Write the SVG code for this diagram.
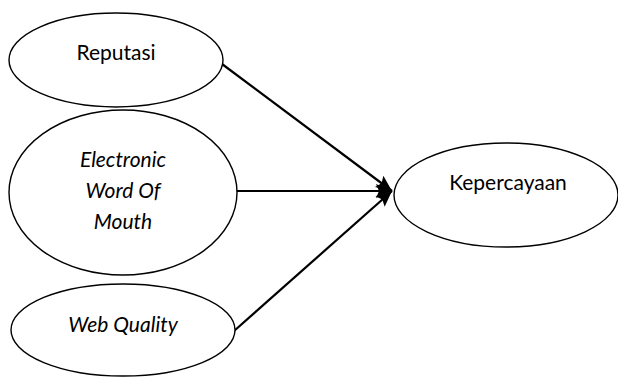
<svg xmlns="http://www.w3.org/2000/svg" width="618" height="377" viewBox="0 0 618 377">
<style>
.node ellipse{fill:#fff;stroke:#000;stroke-width:1.4}
.lbl{font-family:Lato,"Liberation Sans",sans-serif;font-size:21px;fill:#000;text-anchor:middle}
.it{font-style:italic}
.conn line{stroke:#000;stroke-width:2.2}
</style>
<defs>
<marker id="ah" markerUnits="userSpaceOnUse" markerWidth="18" markerHeight="18" viewBox="0 0 18 18" refX="17" refY="9" orient="auto">
<path d="M1,2 L17,9 L1,16 L4,9 Z" fill="#000"/>
</marker>
</defs>
<g class="conn">
<line x1="222" y1="64" x2="392" y2="191" marker-end="url(#ah)"/>
<line x1="235" y1="191" x2="392" y2="191" marker-end="url(#ah)"/>
<line x1="234" y1="331" x2="392" y2="191" marker-end="url(#ah)"/>
</g>
<g id="reputasi" class="node">
<ellipse cx="116" cy="60" rx="107" ry="47"/>
<text class="lbl" x="116" y="60">Reputasi</text>
</g>
<g id="ewom" class="node">
<ellipse cx="123" cy="192.5" rx="114" ry="82.5"/>
<text class="lbl it" x="123" y="167">Electronic</text>
<text class="lbl it" x="123" y="198">Word Of</text>
<text class="lbl it" x="123" y="229">Mouth</text>
</g>
<g id="webquality" class="node">
<ellipse cx="123" cy="330" rx="112" ry="46"/>
<text class="lbl it" x="123" y="332">Web Quality</text>
</g>
<g id="kepercayaan" class="node">
<ellipse cx="506" cy="195" rx="112" ry="52"/>
<text class="lbl" x="508" y="190">Kepercayaan</text>
</g>
</svg>
